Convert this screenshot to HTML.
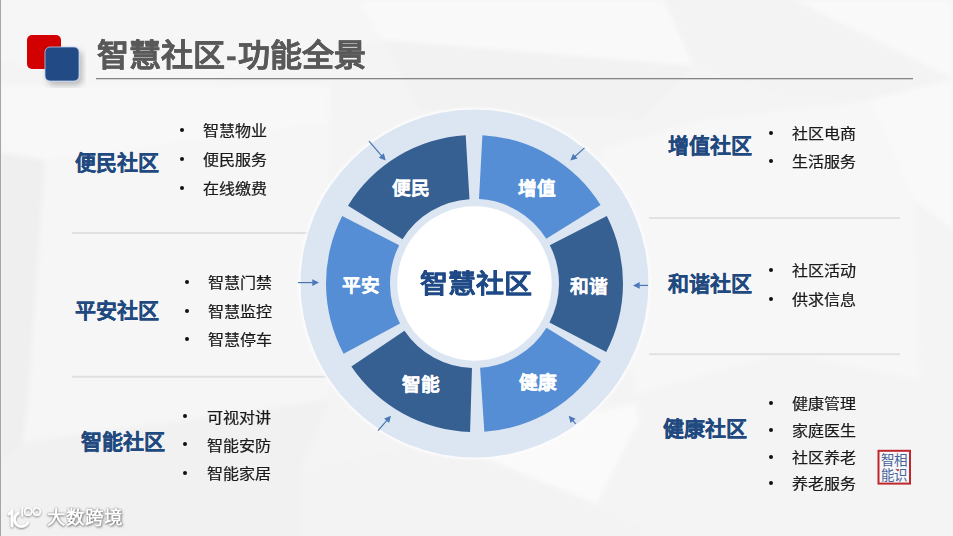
<!DOCTYPE html>
<html lang="zh-CN">
<head>
<meta charset="utf-8">
<style>
html,body{margin:0;padding:0;}
body{width:953px;height:536px;overflow:hidden;position:relative;background:#f4f4f4;font-family:"Liberation Sans",sans-serif;}
svg.bg{position:absolute;left:0;top:0;}
.t{position:absolute;white-space:nowrap;line-height:1;}
.title{left:97px;top:40px;font-size:32px;height:32px;font-weight:bold;color:#595959;-webkit-text-stroke:0.35px #595959;transform:scaleY(0.95);transform-origin:50% 50%;}
.lab{font-size:21px;margin-top:0px;margin-left:0.2px;font-weight:bold;color:#1f497f;-webkit-text-stroke:0.2px #1f497f;}
.li{font-size:16px;height:16px;margin-top:1.5px;color:#1a1a1a;-webkit-text-stroke:0.25px #1a1a1a;transform:scaleY(0.89);}
.dot{position:absolute;width:4px;height:4px;margin:-0.25px 0 0 -0.25px;border-radius:50%;background:#111;}
.seg{font-size:18.7px;margin-top:2px;font-weight:bold;color:#fff;-webkit-text-stroke:0.2px #fff;}
.center{font-size:28px;height:28px;margin-top:1px;font-weight:bold;color:#1f4a86;-webkit-text-stroke:0.25px #1f4a86;transform:scaleY(0.95);}
.wmt{font-size:18.5px;font-weight:bold;color:#ffffff;letter-spacing:0.3px;transform:translateZ(0);text-shadow:0 0 1.5px rgba(0,0,0,0.55),0.8px 1px 2.5px rgba(0,0,0,0.45);}
.stamp{font-family:"Liberation Serif",serif;font-size:13.5px;line-height:15px;color:#46639a;letter-spacing:-0.5px;}
</style>
</head>
<body>
<svg class="bg" width="953" height="536" viewBox="0 0 953 536">
  <defs>
    <filter id="sh" x="-20%" y="-20%" width="140%" height="140%">
      <feGaussianBlur in="SourceAlpha" stdDeviation="3.2"/>
      <feOffset dx="3" dy="4" result="b"/>
      <feComponentTransfer><feFuncA type="linear" slope="0.25"/></feComponentTransfer>
      <feMerge><feMergeNode/><feMergeNode in="SourceGraphic"/></feMerge>
    </filter>
    <filter id="soft" x="-5%" y="-5%" width="110%" height="110%"><feGaussianBlur stdDeviation="2.5"/></filter>
    <filter id="glow" x="-10%" y="-10%" width="120%" height="120%">
      <feGaussianBlur stdDeviation="1.1"/>
    </filter>
    <filter id="wm" x="-20%" y="-30%" width="140%" height="160%">
      <feGaussianBlur in="SourceAlpha" stdDeviation="1.3"/>
      <feOffset dx="0.4" dy="0.8"/>
      <feComponentTransfer><feFuncA type="linear" slope="0.55"/></feComponentTransfer>
      <feMerge><feMergeNode/><feMergeNode in="SourceGraphic"/></feMerge>
    </filter>
  </defs>
  <!-- background -->
  <rect x="0" y="0" width="953" height="536" fill="#f4f4f4"/>
  <g stroke="none" filter="url(#soft)">
    <polygon points="357,0 664,0 694,66 383,40" fill="#f9f9f9"/>
    <polygon points="0,0 357,0 383,40 150,95 0,60" fill="#f6f6f6"/>
    <polygon points="794,0 953,0 953,79" fill="#f9f9f9"/>
    <polygon points="664,0 794,0 953,79 953,150 694,66" fill="#f3f3f3"/>
    <polygon points="383,40 694,66 640,120 420,110" fill="#f2f2f2"/>
    <polygon points="870,100 953,79 953,230 915,200" fill="#f9f9f9"/>
    <polygon points="440,440 596,504 650,400 560,420" fill="#fafafa"/>
    <polygon points="635,395 785,353 953,415 953,536 657,536" fill="#f4f4f4"/>
    <polygon points="300,470 440,440 596,504 657,536 300,536" fill="#f3f3f3"/>
    <polygon points="1,153 45,160 28,400 23,443 1,460" fill="#efefef"/>
    <polygon points="45,160 330,122 330,400 23,443 28,400" fill="#f6f6f6"/>
    <polygon points="1,85 330,85 330,122 45,160 1,153" fill="#f8f8f8"/>
    <polygon points="1,460 23,443 330,400 300,470 300,536 1,536" fill="#f1f1f1"/>
    <polygon points="600,150 700,120 870,100 915,200 920,380 785,353 635,395" fill="#f7f7f7"/>
  </g>
  <!-- left border -->
  <rect x="0" y="0" width="1" height="536" fill="#a6a6a6"/>

  <!-- logo squares -->
  <rect x="27" y="35" width="34" height="34" rx="5" fill="#d20000"/>
  <rect x="45" y="47" width="34" height="34" rx="5" fill="#214b85" stroke="#b5cbe8" stroke-width="0.8" filter="url(#sh)"/>
  <!-- title underline -->
  <rect x="96" y="78" width="817" height="1.3" fill="#858585"/>

  <!-- separators -->
  <rect x="72" y="232" width="270" height="2" fill="#e0e0e0"/>
  <rect x="72" y="375.8" width="270" height="2" fill="#e0e0e0"/>
  <rect x="649" y="217" width="251" height="2" fill="#e2e2e2"/>
  <rect x="649" y="353.2" width="251" height="2" fill="#e2e2e2"/>

  <!-- big circle -->
  <circle cx="474.5" cy="283.5" r="175.8" fill="#fdfdfd" filter="url(#glow)"/>
  <circle cx="474.5" cy="283.5" r="174" fill="#dce6f2"/>
  <path d="M600.57,205.03 A148.5,148.5 0 0 0 482.40,135.21 L479.00,199.12 A84.5,84.5 0 0 1 546.24,238.85 Z" fill="#558ed5"/>
  <path d="M465.69,135.26 A148.5,148.5 0 0 0 348.02,205.69 L402.53,239.22 A84.5,84.5 0 0 1 469.49,199.15 Z" fill="#366092"/>
  <path d="M342.19,216.08 A148.5,148.5 0 0 0 343.63,353.67 L400.03,323.43 A84.5,84.5 0 0 1 399.21,245.14 Z" fill="#558ed5"/>
  <path d="M351.39,366.54 A148.5,148.5 0 0 0 470.09,431.93 L471.99,367.96 A84.5,84.5 0 0 1 404.45,330.75 Z" fill="#366092"/>
  <path d="M484.34,431.67 A148.5,148.5 0 0 0 600.98,361.31 L546.47,327.78 A84.5,84.5 0 0 1 480.10,367.81 Z" fill="#558ed5"/>
  <path d="M606.22,352.07 A148.5,148.5 0 0 0 606.81,216.08 L549.79,245.14 A84.5,84.5 0 0 1 549.45,322.52 Z" fill="#366092"/>
  <circle cx="474.5" cy="283.5" r="77.2" fill="#ffffff"/>

  <!-- arrows -->
  <g stroke="#4872ad" stroke-width="1.15" fill="#4a78b8">
    <line x1="369" y1="141.2" x2="381.66" y2="155.90"/>
    <polygon points="385.7,160.6 378.83,157.68 383.83,153.37" stroke="none"/>
    <line x1="584.5" y1="147.9" x2="574.92" y2="156.47"/>
    <polygon points="570.3,160.6 573.09,153.67 577.49,158.59" stroke="none"/>
    <line x1="298" y1="282.6" x2="312.80" y2="282.60"/>
    <polygon points="319,282.6 312.30,285.90 312.30,279.30" stroke="none"/>
    <line x1="648" y1="285.4" x2="639.20" y2="285.40"/>
    <polygon points="633,285.4 639.70,282.10 639.70,288.70" stroke="none"/>
    <line x1="378" y1="430.6" x2="386.92" y2="420.37"/>
    <polygon points="391,415.7 389.08,422.92 384.11,418.58" stroke="none"/>
    <line x1="575.7" y1="423.9" x2="572.75" y2="420.49"/>
    <polygon points="568.7,415.8 575.58,418.71 570.58,423.03" stroke="none"/>
  </g>

  <!-- watermark logo -->
  <g filter="url(#wm)" fill="none" stroke="#ffffff" stroke-width="2.5" stroke-linecap="round">
    <path d="M9,514 L12,511 L12,526"/>
    <path d="M18,513.4 A7,7 0 1 0 27.8,522.5"/>
    <path d="M22.3,507.5 L22.3,516" stroke-width="1.5"/>
    <circle cx="28.2" cy="511.6" r="3.6" stroke-width="1.5"/>
    <circle cx="36.8" cy="511.6" r="3.6" stroke-width="1.5"/>
  </g>
  <!-- stamp -->
  <rect x="878.5" y="450.8" width="31.5" height="32.8" fill="#f7f7f7" stroke="#c0262c" stroke-width="2"/>
</svg>

<div class="t title">智慧社区<span style="margin:0 1.5px 0 1px;">-</span>功能全景</div>

<div class="t lab" style="left:75.3px;top:152.4px;">便民社区</div>
<div class="t lab" style="left:75.3px;top:300.0px;">平安社区</div>
<div class="t lab" style="left:81.1px;top:430.5px;">智能社区</div>
<div class="t lab" style="left:668.0px;top:134.8px;">增值社区</div>
<div class="t lab" style="left:668.0px;top:273.0px;">和谐社区</div>
<div class="t lab" style="left:663.1px;top:418.1px;">健康社区</div>

<div class="t li" style="left:203.0px;top:122.8px;">智慧物业</div>
<div class="dot" style="left:179.95px;top:128.65px;"></div>
<div class="t li" style="left:203.0px;top:151.4px;">便民服务</div>
<div class="dot" style="left:179.95px;top:156.85px;"></div>
<div class="t li" style="left:203.0px;top:180.1px;">在线缴费</div>
<div class="dot" style="left:179.95px;top:186.45px;"></div>

<div class="t li" style="left:208.10000000000002px;top:274.9px;">智慧门禁</div>
<div class="dot" style="left:185.15px;top:279.85px;"></div>
<div class="t li" style="left:208.10000000000002px;top:303.4px;">智慧监控</div>
<div class="dot" style="left:185.15px;top:309.25px;"></div>
<div class="t li" style="left:208.10000000000002px;top:331.2px;">智慧停车</div>
<div class="dot" style="left:185.15px;top:336.95px;"></div>

<div class="t li" style="left:206.5px;top:409.0px;">可视对讲</div>
<div class="dot" style="left:183.05px;top:414.05px;"></div>
<div class="t li" style="left:206.5px;top:437.0px;">智能安防</div>
<div class="dot" style="left:183.05px;top:442.25px;"></div>
<div class="t li" style="left:206.5px;top:465.1px;">智能家居</div>
<div class="dot" style="left:183.05px;top:470.85px;"></div>

<div class="t li" style="left:791.6999999999999px;top:125.6px;">社区电商</div>
<div class="dot" style="left:768.85px;top:131.15px;"></div>
<div class="t li" style="left:791.6999999999999px;top:153.5px;">生活服务</div>
<div class="dot" style="left:768.85px;top:159.15px;"></div>

<div class="t li" style="left:791.6999999999999px;top:262.6px;">社区活动</div>
<div class="dot" style="left:768.85px;top:268.35px;"></div>
<div class="t li" style="left:791.6999999999999px;top:291.2px;">供求信息</div>
<div class="dot" style="left:768.85px;top:296.95px;"></div>

<div class="t li" style="left:792.0px;top:395.2px;">健康管理</div>
<div class="dot" style="left:769.05px;top:401.55px;"></div>
<div class="t li" style="left:792.0px;top:422.2px;">家庭医生</div>
<div class="dot" style="left:769.05px;top:428.45px;"></div>
<div class="t li" style="left:792.0px;top:449.1px;">社区养老</div>
<div class="dot" style="left:769.05px;top:454.95px;"></div>
<div class="t li" style="left:792.0px;top:475.6px;">养老服务</div>
<div class="dot" style="left:769.05px;top:481.35px;"></div>

<div class="t seg" style="left:391.6px;top:178.1px;">便民</div>
<div class="t seg" style="left:517.5px;top:178.1px;">增值</div>
<div class="t seg" style="left:341.6px;top:275.4px;">平安</div>
<div class="t seg" style="left:569.6px;top:275.7px;">和谐</div>
<div class="t seg" style="left:401.6px;top:374.4px;">智能</div>
<div class="t seg" style="left:518.5px;top:372.4px;">健康</div>

<div class="t center" style="left:419.7px;top:269px;">智慧社区</div>


<div class="t wmt" style="left:46.5px;top:508.5px;">大数跨境</div>
<div class="t stamp" style="left:881px;top:453px;">智相<br>能识</div>
<div style="position:absolute;left:897px;top:468.6px;width:2.2px;height:2.2px;border-radius:50%;background:#d02020;"></div>
</body>
</html>
